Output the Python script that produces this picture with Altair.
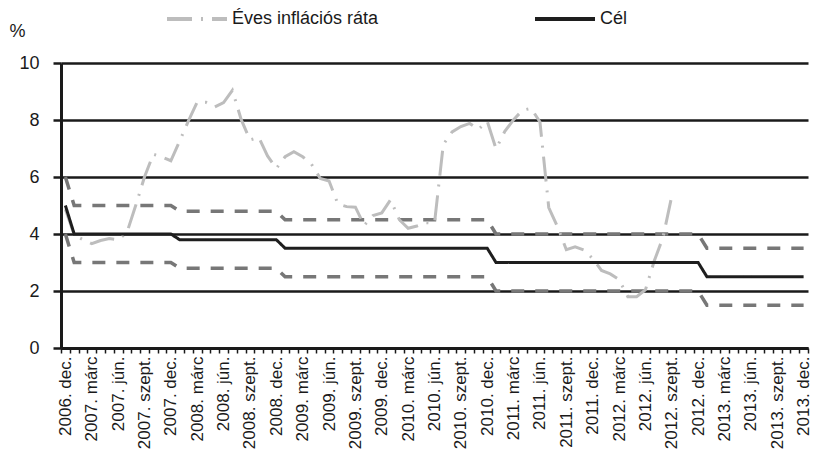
import json
import altair as alt
import pandas as pd

# ---- data -----------------------------------------------------------------
tick_labels = [
    "2006. dec.",
    "2007. márc", "2007. jún.", "2007. szept.", "2007. dec.",
    "2008. márc", "2008. jún.", "2008. szept.", "2008. dec.",
    "2009. márc", "2009. jún.", "2009. szept.", "2009. dec.",
    "2010. márc", "2010. jún.", "2010. szept.", "2010. dec.",
    "2011. márc", "2011. jún.", "2011. szept.", "2011. dec.",
    "2012. márc", "2012. jún.", "2012. szept.", "2012. dec.",
    "2013. márc", "2013. jún.", "2013. szept.", "2013. dec.",
]

# monthly annual inflation, 2006 Dec .. 2012 Sep
inflation = [
    4.87,
    3.97, 3.80, 3.66, 3.77, 3.84, 3.80, 4.05, 5.00, 6.00, 6.80, 6.70, 6.57,
    7.26, 7.97, 8.63, 8.62, 8.46, 8.61, 9.04, 8.02, 7.30, 7.39, 6.74, 6.30,
    6.71, 6.89, 6.71, 6.45, 5.95, 5.86, 5.06, 4.96, 4.94, 4.30, 4.65, 4.74,
    5.20, 4.50, 4.20, 4.28, 4.40, 4.38, 7.14, 7.58, 7.77, 7.88, 7.67, 7.96,
    6.99, 7.60, 8.01, 8.34, 8.41, 7.93, 4.93, 4.25, 3.45, 3.55, 3.44, 3.14,
    2.72, 2.60, 2.40, 1.80, 1.80, 2.04, 3.05, 3.88, 5.33,
]

# target and band per period (2006 Dec, then calendar years 2007..2013)
months_in_period = [1, 12, 12, 12, 12, 12, 12, 12]
target_by_period = [5.0, 4.0, 3.8, 3.5, 3.5, 3.0, 3.0, 2.5]
upper_by_period = [6.0, 5.0, 4.8, 4.5, 4.5, 4.0, 4.0, 3.5]
lower_by_period = [4.0, 3.0, 2.8, 2.5, 2.5, 2.0, 2.0, 1.5]

INFL = "Éves inflációs ráta"
CEL = "Cél"


def expand(values):
    out = []
    for v, n in zip(values, months_in_period):
        out += [v] * n
    return out


target = expand(target_by_period)
upper = expand(upper_by_period)
lower = expand(lower_by_period)
n_months = len(target)

main_rows = []
for i, v in enumerate(inflation):
    main_rows.append({"i": i, "series": INFL, "v": v})
for i, v in enumerate(target):
    main_rows.append({"i": i, "series": CEL, "v": v})
main_df = pd.DataFrame(main_rows)

band_rows = []
for i, v in enumerate(upper):
    band_rows.append({"i": i, "band": "felső", "v": v})
for i, v in enumerate(lower):
    band_rows.append({"i": i, "band": "alsó", "v": v})
band_df = pd.DataFrame(band_rows)

# ---- geometry / style ------------------------------------------------------
W, H = 747, 285
step = W / n_months
FONT = "Liberation Sans"
INK = "#1a1a1a"

labs_js = json.dumps(tick_labels, ensure_ascii=False)
k = "round(datum.value + 0.5)"
label_expr = f"({k} % 3 == 0 && {k} <= {n_months - 1}) ? {labs_js}[{k} / 3] : ''"

boundaries = [j - 0.5 for j in range(n_months + 1)]

x_enc = alt.X(
    "i:Q",
    scale=alt.Scale(domain=[-0.5, n_months - 0.5], nice=False, zero=False),
    axis=alt.Axis(
        values=boundaries,
        labelExpr=label_expr,
        labelAngle=-90,
        labelOffset=step / 2,
        labelFontSize=17,
        labelFont=FONT,
        labelColor=INK,
        labelPadding=3,
        labelOverlap=False,
        labelFlush=False,
        labelBound=False,
        grid=False,
        domainColor=INK,
        domainWidth=3,
        tickColor=INK,
        tickWidth=1.5,
        tickSize=5,
        title=None,
    ),
)

y_enc = alt.Y(
    "v:Q",
    scale=alt.Scale(domain=[0, 10], nice=False),
    axis=alt.Axis(
        values=[0, 2, 4, 6, 8, 10],
        grid=True,
        gridColor=INK,
        gridWidth=2.5,
        domainColor=INK,
        domainWidth=3,
        tickColor=INK,
        tickWidth=2.5,
        tickSize=8,
        labelFontSize=18,
        labelFont=FONT,
        labelColor=INK,
        labelPadding=14,
        title="%",
        titleAngle=0,
        titleFont=FONT,
        titleFontSize=18,
        titleFontWeight="normal",
        titleColor=INK,
        titleAlign="left",
        titleBaseline="alphabetic",
        titleX=-52,
        titleY=-27,
    ),
)

bands = (
    alt.Chart(band_df)
    .mark_line(color="#777777", strokeWidth=3.5, strokeDash=[13, 11])
    .encode(x=x_enc, y=y_enc, detail="band:N")
)

legend = alt.Legend(
    title=None,
    orient="none",
    direction="horizontal",
    legendX=104,
    legendY=-76,
    symbolType="stroke",
    symbolSize=3600,
    symbolStrokeWidth=4,
    labelFontSize=18,
    labelFont=FONT,
    labelColor=INK,
    labelOffset=3,
    columnPadding=148,
    padding=0,
)

main = (
    alt.Chart(main_df)
    .mark_line(strokeWidth=3)
    .encode(
        x=x_enc,
        y=y_enc,
        color=alt.Color(
            "series:N",
            scale=alt.Scale(domain=[INFL, CEL], range=["#bdbdbd", "#1e1e1e"]),
            legend=legend,
        ),
        strokeDash=alt.StrokeDash(
            "series:N",
            scale=alt.Scale(domain=[INFL, CEL], range=[[25, 9, 2, 9], [1, 0]]),
            legend=legend,
        ),
    )
)

chart = (
    alt.layer(bands, main)
    .properties(
        width=W,
        height=H,
        autosize=alt.AutoSizeParams(type="none"),
        padding={"left": 61, "top": 63, "right": 5, "bottom": 103},
        background="white",
    )
    .configure_view(stroke=None)
)

chart.save("out.html", embed_options={"renderer": "svg", "actions": False})
